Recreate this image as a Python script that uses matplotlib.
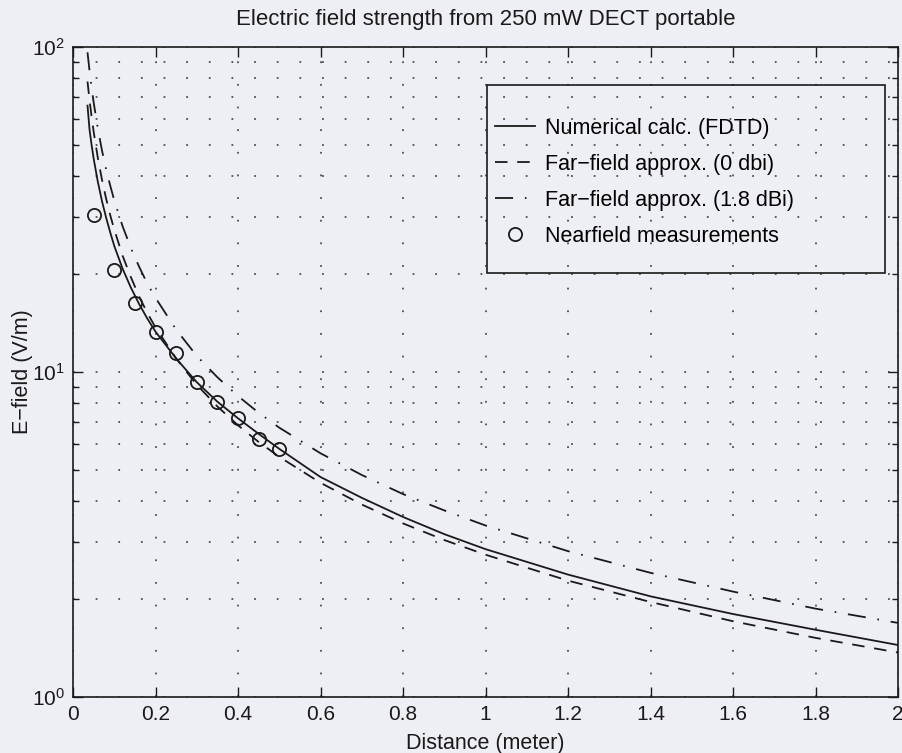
import matplotlib
matplotlib.use("Agg")
import matplotlib.pyplot as plt
from matplotlib.ticker import LogLocator, FixedLocator, FuncFormatter
from matplotlib.patches import Rectangle

plt.rcParams['font.family'] = ['Liberation Sans', 'DejaVu Sans']
plt.rcParams['lines.scale_dashes'] = False

# ---- data ----
dist = [0.035, 0.04, 0.045, 0.05, 0.06, 0.07, 0.08, 0.09, 0.1, 0.12, 0.14, 0.16, 0.18,
        0.2, 0.25, 0.3, 0.35, 0.4, 0.45, 0.5, 0.6, 0.7, 0.8, 0.9, 1.0, 1.2, 1.4, 1.6, 1.8, 2.0]
fdtd = [66.0, 55.6, 49.9, 45.3, 38.5, 33.6, 29.9, 26.9, 24.4, 20.8, 18.2, 16.2, 14.6,
        13.3, 11.0, 9.3, 8.1, 7.2, 6.45, 5.8, 4.75, 4.1, 3.58, 3.17, 2.85, 2.38, 2.04, 1.80, 1.61, 1.445]
far0 = [78.3, 68.5, 60.9, 54.8, 45.6, 39.1, 34.2, 30.4, 27.4, 22.8, 19.6, 17.1, 15.2,
        13.7, 11.0, 9.13, 7.83, 6.85, 6.09, 5.48, 4.56, 3.91, 3.42, 3.04, 2.74, 2.28, 1.96, 1.71, 1.52, 1.37]
far18 = [96.3, 84.3, 74.9, 67.4, 56.2, 48.1, 42.1, 37.5, 33.7, 28.1, 24.1, 21.1, 18.7,
         16.9, 13.5, 11.2, 9.63, 8.43, 7.49, 6.74, 5.62, 4.82, 4.21, 3.75, 3.37, 2.81, 2.41, 2.11, 1.87, 1.69]
meas_x = [0.05, 0.10, 0.15, 0.20, 0.25, 0.30, 0.35, 0.40, 0.45, 0.50]
meas_E = [30.4, 20.6, 16.3, 13.3, 11.4, 9.3, 8.1, 7.2, 6.2, 5.8]
labels = ['Numerical calc. (FDTD)', 'Far\u2212field approx. (0 dbi)',
          'Far\u2212field approx. (1.8 dBi)', 'Nearfield measurements']
xticks = [0, 0.2, 0.4, 0.6, 0.8, 1.0, 1.2, 1.4, 1.6, 1.8, 2.0]

bg = '#eeeef5'
fig = plt.figure(figsize=(9.02, 7.53), dpi=100, facecolor=bg)
ax = fig.add_axes([0.081, 0.0744, 0.9146, 0.8632], facecolor=bg)

ink = '#1a1a1a'
l1, = ax.plot(dist, fdtd, color=ink, lw=1.3, ls='-')
l2, = ax.plot(dist, far0, color=ink, lw=1.3, ls=(0, (9, 7)))
l3, = ax.plot(dist, far18, color=ink, lw=1.3, ls=(0, (13, 8.5, 1.2, 8.5)))
l4, = ax.plot(meas_x, meas_E, ls='none', marker='o', ms=9.5, mfc='none', mec=ink, mew=1.3)

ax.set_yscale('log')
ax.set_xlim(0, 2)
ax.set_ylim(1, 100)
ax.xaxis.set_major_locator(FixedLocator(xticks))
ax.xaxis.set_major_formatter(FuncFormatter(lambda v, p: '%g' % v))
ax.yaxis.set_major_locator(LogLocator(base=10, numticks=10))
ax.yaxis.set_minor_locator(LogLocator(base=10, subs=range(2, 10), numticks=20))

ax.grid(True, which='both', axis='y', color='#333333', lw=1.1, ls=(0, (1.3, 15)))
ax.grid(True, which='major', axis='x', color='#333333', lw=1.1, ls=(0, (1.3, 15)))

ax.tick_params(which='both', direction='in', top=True, right=True, colors=ink,
               labelsize=15, width=1.0)
ax.tick_params(which='major', length=7, pad=6)
ax.tick_params(which='minor', length=4)
for s in ax.spines.values():
    s.set_color(ink)
    s.set_linewidth(1.2)

ax.set_title('Electric field strength from 250 mW DECT portable', fontsize=16, pad=16, color=ink)
ax.set_xlabel('Distance (meter)', fontsize=15.5, labelpad=6.5, color=ink)
ax.set_ylabel('E\u2212field (V/m)', fontsize=15.5, labelpad=-1, color=ink)

# legend box
ax.add_patch(Rectangle((0.502, 0.652), 0.482, 0.2895, transform=ax.transAxes,
                       fill=False, ec=ink, lw=1.2, zorder=5))
ax.legend([l1, l2, l3, l4], labels, loc='upper left', bbox_to_anchor=(0.5067, 0.898),
          frameon=False, fontsize=15.5, handlelength=1.86, handletextpad=0.46,
          labelspacing=0.7, borderpad=0.2, borderaxespad=0.0)

fig.savefig('out.png', dpi=100, facecolor=bg)
